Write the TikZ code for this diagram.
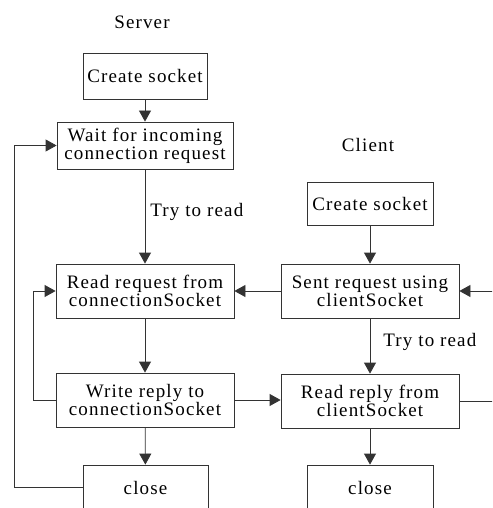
\documentclass[tikz,border=0pt]{standalone}
\usepackage{fontspec}
\setmainfont[LetterSpace=6]{Liberation Serif}
\usetikzlibrary{arrows.meta}
\begin{document}
\begin{tikzpicture}[x=1pt,y=-1pt,
  line width=0.8pt,
  ln/.style={draw=black!80},
  box/.style={draw=black!80, line width=0.8pt, inner sep=0pt, align=center,
    font=\fontsize{19}{14.5}\selectfont},
  lbl/.style={inner sep=0pt, font=\fontsize{19}{14.5}\selectfont},
  arr/.style={ln, -{Triangle[length=11pt,width=12pt]}}]
\useasboundingbox (0,0) rectangle (492,508);
\clip (0,0) rectangle (492,508);
% titles
\node[lbl] (ts) at (142,22) {Server};
\node[lbl] (tc) at (368,145) {Client};
% server boxes
\node[box, minimum width=124pt, minimum height=46pt] (s1) at (145,76) {Create socket};
\node[box, minimum width=176pt, minimum height=47pt] (s2) at (145,145.5) {Wait for incoming\\connection request};
\node[box, minimum width=178pt, minimum height=54pt] (s3) at (145,291) {Read request from\\connectionSocket};
\node[box, minimum width=178pt, minimum height=54pt] (s4) at (145,400) {Write reply to\\connectionSocket};
\node[box, minimum width=125pt, minimum height=45pt] (s5) at (145.5,487.5) {close};
% client boxes
\node[box, minimum width=126pt, minimum height=43pt] (c1) at (370,203.5) {Create socket};
\node[box, minimum width=178pt, minimum height=54pt] (c2) at (370,291) {Sent request using\\clientSocket};
\node[box, minimum width=178pt, minimum height=54pt] (c3) at (370,401) {Read reply from\\clientSocket};
\node[box, minimum width=126pt, minimum height=45pt] (c4) at (370,487.5) {close};
% labels
\node[lbl, anchor=west] (l1) at (150,212) {Try to read};
\node[lbl, anchor=west] (l2) at (383,342) {Try to read};
% free ends on the right edge
\coordinate (rin) at (500,291);
\coordinate (rout) at (500,401);
\coordinate (lo) at (14,0);
\coordinate (li) at (33,0);
% server connectors
\draw[arr] (s1) -- (s2);
\draw[arr] (s2) -- (s3);
\draw[arr] (s3) -- (s4);
\draw[arr] (s4) -- (s5);
\draw[arr] (s5.west) -- (s5.west -| lo) |- (s2.west);
\draw[arr] (s4.west) -- (s4.west -| li) |- (s3.west);
% cross connectors
\draw[arr] (c2.west) -- (s3.east);
\draw[arr] (s4.east) -- (s4.east -| c3.west);
% client connectors
\draw[arr] (c1) -- (c2);
\draw[arr] (c2) -- (c3);
\draw[arr] (c3) -- (c4);
\draw[arr] (rin) -- (c2.east);
\draw[ln] (c3.east) -- (rout);
\end{tikzpicture}
\end{document}
